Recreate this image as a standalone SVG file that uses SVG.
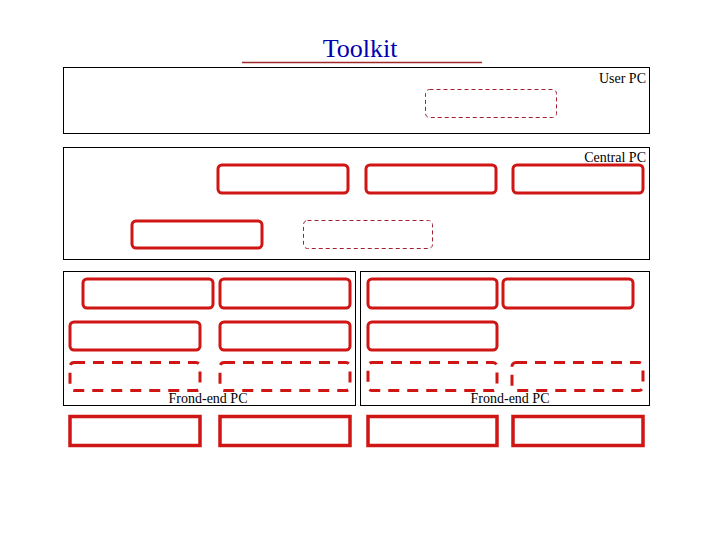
<svg xmlns="http://www.w3.org/2000/svg" width="720" height="540" viewBox="0 0 720 540">
<style>
.panel{fill:#fff;stroke:#000;stroke-width:1}
.lbl{font-family:'Liberation Serif',serif;font-size:14px;fill:#000}
.solid{fill:none;stroke:#d01515;stroke-width:3}
.dash{fill:none;stroke:#d01515;stroke-width:3;stroke-dasharray:11 8}
.thin{fill:none;stroke:#a02030;stroke-width:1;stroke-dasharray:4 3}
.plain{fill:none;stroke:#d01515;stroke-width:3.5}
</style>
<rect width="720" height="540" fill="#fff"/>
<g id="title">
<text x="360" y="57" text-anchor="middle" font-family="'Liberation Serif',serif" font-size="26" fill="#0000b0">Toolkit</text>
<line x1="242" y1="62.5" x2="482" y2="62.5" stroke="#a02828" stroke-width="1.5"/>
</g>
<g id="user-pc">
<rect class="panel" x="63.5" y="67.5" width="586" height="66"/>
<text class="lbl" font-family="'Liberation Serif',serif" x="646" y="83" text-anchor="end">User PC</text>
<rect id="u1" class="thin" x="425.5" y="89.5" width="131" height="28" rx="4"/>
</g>
<g id="central-pc">
<rect class="panel" x="63.5" y="147.5" width="586" height="112"/>
<text class="lbl" font-family="'Liberation Serif',serif" x="646" y="162" text-anchor="end">Central PC</text>
<rect id="c1" class="solid" x="218" y="165" width="130" height="28" rx="4"/>
<rect id="c2" class="solid" x="366" y="165" width="130" height="28" rx="4"/>
<rect id="c3" class="solid" x="513" y="165" width="130" height="28" rx="4"/>
<rect id="c4" class="solid" x="132" y="221" width="130" height="27" rx="4"/>
<rect id="c5" class="thin" x="303.5" y="220.5" width="129" height="28" rx="4"/>
</g>
<g id="frontend-left">
<rect class="panel" x="63.5" y="271.5" width="292" height="134"/>
<text class="lbl" font-family="'Liberation Serif',serif" x="208" y="403" text-anchor="middle">Frond-end PC</text>
<rect id="fl1" class="solid" x="83" y="279" width="130" height="29" rx="4"/>
<rect id="fl2" class="solid" x="220" y="279" width="130" height="29" rx="4"/>
<rect id="fl3" class="solid" x="70" y="322" width="130" height="28" rx="4"/>
<rect id="fl4" class="solid" x="220" y="322" width="130" height="28" rx="4"/>
<rect id="fl5" class="dash" x="70" y="362.5" width="130" height="28" rx="4"/>
<rect id="fl6" class="dash" x="220" y="362.5" width="130" height="28" rx="4"/>
</g>
<g id="frontend-right">
<rect class="panel" x="360.5" y="271.5" width="289" height="134"/>
<text class="lbl" font-family="'Liberation Serif',serif" x="510" y="403" text-anchor="middle">Frond-end PC</text>
<rect id="fr1" class="solid" x="368" y="279" width="129" height="29" rx="4"/>
<rect id="fr2" class="solid" x="503" y="279" width="130" height="29" rx="4"/>
<rect id="fr3" class="solid" x="368" y="322" width="129" height="28" rx="4"/>
<rect id="fr4" class="dash" x="368" y="362.5" width="129" height="28" rx="4"/>
<rect id="fr5" class="dash" x="512" y="362.5" width="131" height="28" rx="4"/>
</g>
<g id="bottom-row">
<rect id="b1" class="plain" x="70" y="416.5" width="130" height="29"/>
<rect id="b2" class="plain" x="220" y="416.5" width="130" height="29"/>
<rect id="b3" class="plain" x="368" y="416.5" width="129" height="29"/>
<rect id="b4" class="plain" x="513" y="416.5" width="130" height="29"/>
</g>
<g id="connectors"></g>
</svg>
